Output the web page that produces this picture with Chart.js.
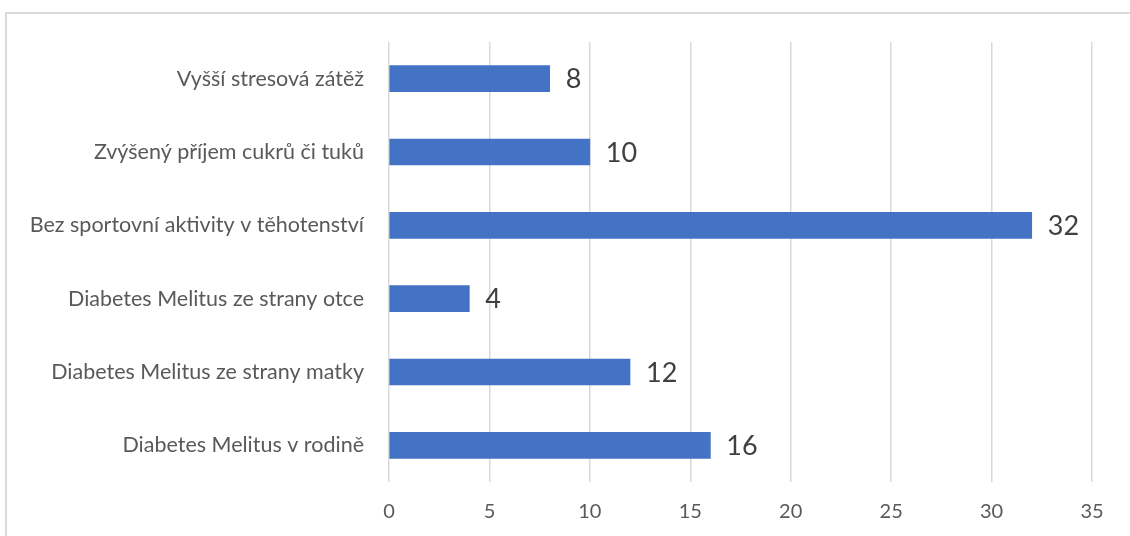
<!DOCTYPE html>
<html>
<head>
<meta charset="utf-8">
<script src="https://cdn.jsdelivr.net/npm/chart.js@4"></script>
<style>
	html, body { margin: 0; padding: 0; background: #fff; overflow: hidden; }
	#wrap { position: relative; width: 1130px; height: 536px; }
	#frame { position: absolute; left: 5px; top: 12px; width: 1140px; height: 540px; border: 2px solid #d9d9d9; box-sizing: border-box; }
	canvas { position: absolute; left: 0; top: 0; }
</style>
</head>
<body>
<div id="wrap">
	<div id="frame"></div>
	<canvas id="factors" width="1130" height="536"></canvas>
</div>
<script>
const categories = [
	"Vyšší stresová zátěž",
	"Zvýšený příjem cukrů či tuků",
	"Bez sportovní aktivity v těhotenství",
	"Diabetes Melitus ze strany otce",
	"Diabetes Melitus ze strany matky",
	"Diabetes Melitus v rodině"
]
const counts = [8, 10, 32, 4, 12, 16]
const xTicks = [0, 5, 10, 15, 20, 25, 30, 35]

// value labels next to the end of each bar
const barLabels = {
	id: "barLabels",
	afterDatasetsDraw(chart) {
		const ctx = chart.ctx
		const meta = chart.getDatasetMeta(0)
		ctx.save()
		ctx.font = "27px Lato"
		ctx.fillStyle = "#404040"
		ctx.textAlign = "left"
		ctx.textBaseline = "middle"
		meta.data.forEach((bar, i) => {
			ctx.fillText(String(counts[i]), bar.x + 16, bar.y + 1)
		})
		ctx.restore()
	}
}

new Chart(document.getElementById("factors").getContext("2d"), {
	type: "bar",
	data: {
		labels: categories,
		datasets: [
			{
				label: "Počet",
				data: counts,
				backgroundColor: "#4472C4",
				barThickness: 26
			}
		]
	},
	options: {
		indexAxis: "y",
		responsive: false,
		animation: false,
		layout: {
			padding: { top: 42, right: 38, left: 0, bottom: 0 }
		},
		scales: {
			x: {
				min: 0,
				max: 35,
				afterBuildTicks: (scale) => {
					scale.ticks = xTicks.map(v => ({ value: v }))
				},
				afterFit: (scale) => {
					scale.height = 54
				},
				ticks: {
					color: "#595959",
					font: { family: "Lato", size: 20 },
					padding: 18
				},
				grid: {
					color: "#d9d9d9",
					lineWidth: 1.5,
					drawTicks: false
				},
				border: {
					display: false
				}
			},
			y: {
				afterFit: (scale) => {
					scale.width = 389
				},
				ticks: {
					color: "#595959",
					font: { family: "Lato", size: 21.5 },
					padding: 17
				},
				grid: {
					display: false
				},
				border: {
					display: false
				}
			}
		},
		plugins: {
			legend: {
				display: false
			},
			tooltip: {
				enabled: false
			}
		}
	},
	plugins: [barLabels]
})
</script>
</body>
</html>
